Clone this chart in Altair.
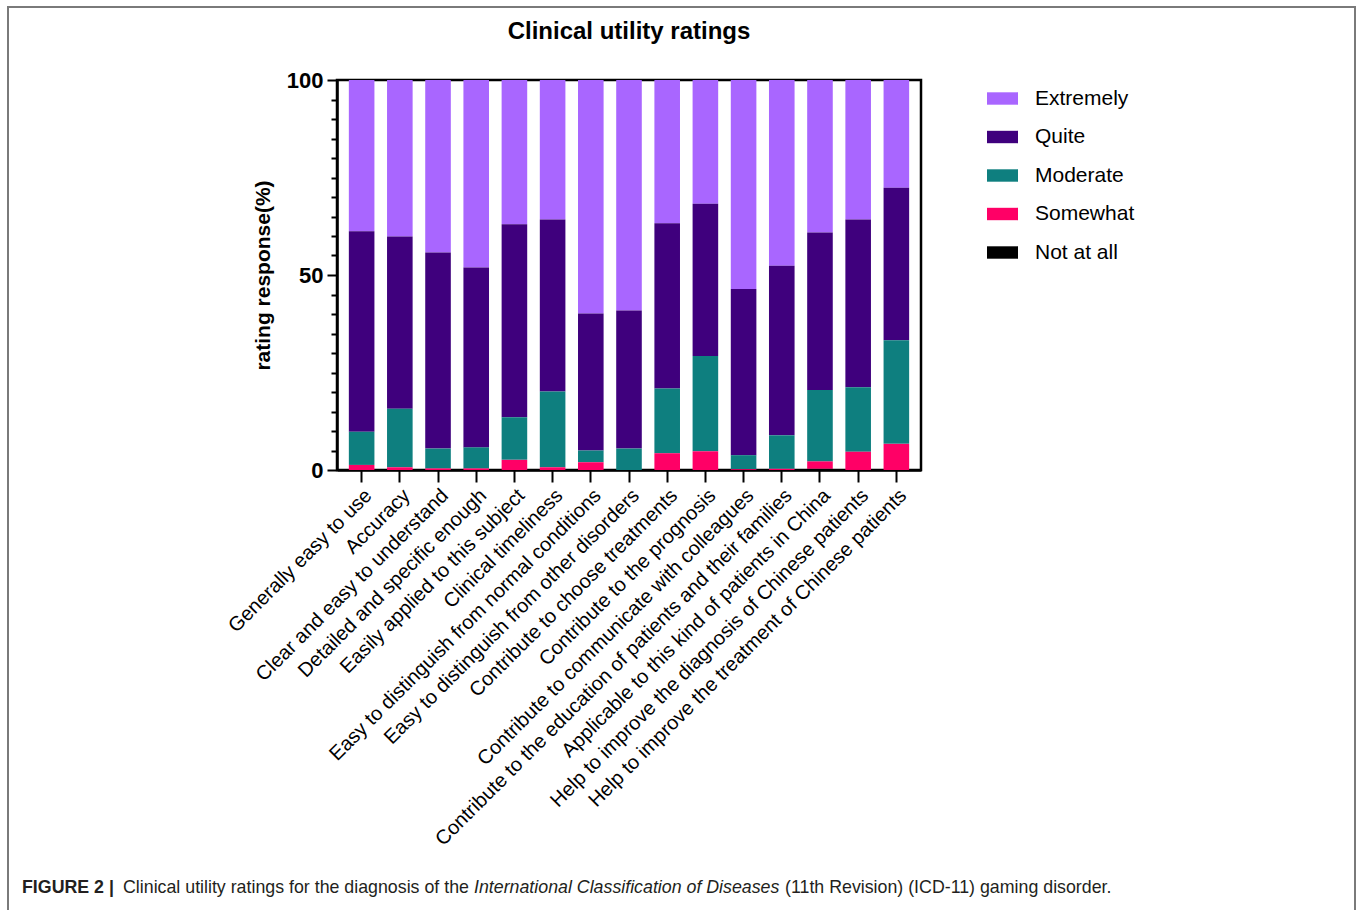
import altair as alt
import pandas as pd

categories = [
    "Generally easy to use",
    "Accuracy",
    "Clear and easy to understand",
    "Detailed and specific enough",
    "Easily applied to this subject",
    "Clinical timeliness",
    "Easy to distinguish from normal conditions",
    "Easy to distinguish from other disorders",
    "Contribute to choose treatments",
    "Contribute to the prognosis",
    "Contribute to communicate with colleagues",
    "Contribute to the education of patients and their families",
    "Applicable to this kind of patients in China",
    "Help to improve the diagnosis of Chinese patients",
    "Help to improve the treatment of Chinese patients",
]

not_at_all = [0, 0, 0, 0, 0, 0, 0, 0, 0, 0, 0, 0, 0.3, 0, 0]
somewhat = [1.3, 0.7, 0.4, 0.4, 2.6, 0.7, 2.0, 0, 4.3, 4.8, 0.2, 0.3, 1.9, 4.7, 6.7]
moderate = [8.5, 15.0, 5.1, 5.4, 10.9, 19.4, 3.0, 5.5, 16.6, 24.4, 3.6, 8.6, 18.3, 16.5, 26.6]
quite = [51.4, 44.2, 50.3, 46.1, 49.5, 44.1, 35.1, 35.4, 42.4, 39.1, 42.6, 43.5, 40.4, 43.0, 39.1]
extremely = [38.8, 40.1, 44.2, 48.1, 37.0, 35.8, 59.9, 59.1, 36.7, 31.7, 53.6, 47.6, 39.1, 35.8, 27.6]

ratings = ["Extremely", "Quite", "Moderate", "Somewhat", "Not at all"]
colors = ["#a966ff", "#3f007d", "#0e7f7f", "#ff0066", "#000000"]
stack_order = {"Not at all": 0, "Somewhat": 1, "Moderate": 2, "Quite": 3, "Extremely": 4}
series = {"Extremely": extremely, "Quite": quite, "Moderate": moderate,
          "Somewhat": somewhat, "Not at all": not_at_all}

rows = []
for r in ratings:
    for c, v in zip(categories, series[r]):
        rows.append({"category": c, "rating": r, "value": v, "ord": stack_order[r]})
df = pd.DataFrame(rows)

FONT = "Liberation Sans"

bars = alt.Chart(df).mark_bar(stroke=None).encode(
    x=alt.X("category:N", sort=categories, title=None,
            scale=alt.Scale(paddingInner=0.33, paddingOuter=0.31),
            axis=alt.Axis(labelAngle=-45, labelAlign="right", labelBaseline="top",
                          labelFontSize=20, labelColor="black", labelPadding=3,
                          tickSize=12, tickWidth=2, tickColor="black",
                          domainColor="black", domainWidth=2.5, labelLimit=0)),
    y=alt.Y("value:Q", stack="zero", title="rating response(%)",
            scale=alt.Scale(domain=[0, 100], nice=False),
            axis=alt.Axis(values=list(range(0, 101, 5)),
                          labelExpr="datum.value % 50 === 0 ? datum.label : ''",
                          tickSize={"condition": {"test": "datum.value % 50 === 0", "value": 10}, "value": 6},
                          tickWidth=2, tickColor="black", domainColor="black", domainWidth=2.5,
                          labelFontSize=22, labelFontWeight="bold", labelColor="black",
                          labelPadding=4, grid=False,
                          titleFontSize=21, titleFontWeight="bold", titleColor="black",
                          titlePadding=13)),
    color=alt.Color("rating:N", scale=alt.Scale(domain=ratings, range=colors),
                    legend=alt.Legend(title=None, orient="none", legendX=650, legendY=3,
                                      symbolType="M-1,-0.4H1V0.4H-1Z", symbolSize=961,
                                      symbolStrokeWidth=0, labelFontSize=21, labelColor="black",
                                      labelOffset=17, rowPadding=12.5)),
    order=alt.Order("ord:Q", sort="ascending"),
)

one = pd.DataFrame({"k": [0]})

title_text = alt.Chart(one).mark_text(align="center", baseline="middle", fontSize=24,
                                      fontWeight="bold", color="black", font=FONT).encode(
    x=alt.value(292), y=alt.value(32 - 80), text=alt.value("Clinical utility ratings"))

cap_y = 813
cap_fs = 17.8
caption_bold = alt.Chart(one).mark_text(align="left", baseline="alphabetic", fontSize=cap_fs,
                                        fontWeight="bold", color="#231f20", font=FONT).encode(
    x=alt.value(22 - 337), y=alt.value(cap_y), text=alt.value("FIGURE 2 |"))
caption_1 = alt.Chart(one).mark_text(align="left", baseline="alphabetic", fontSize=cap_fs,
                                     color="#231f20", font=FONT).encode(
    x=alt.value(123 - 337), y=alt.value(cap_y),
    text=alt.value("Clinical utility ratings for the diagnosis of the"))
caption_2 = alt.Chart(one).mark_text(align="left", baseline="alphabetic", fontSize=cap_fs,
                                     fontStyle="italic", color="#231f20", font=FONT).encode(
    x=alt.value(474 - 337), y=alt.value(cap_y),
    text=alt.value("International Classification of Diseases"))
caption_3 = alt.Chart(one).mark_text(align="left", baseline="alphabetic", fontSize=cap_fs,
                                     color="#231f20", font=FONT).encode(
    x=alt.value(785 - 337), y=alt.value(cap_y),
    text=alt.value("(11th Revision) (ICD-11) gaming disorder."))

border = alt.Chart(one).mark_rect(fillOpacity=0, stroke="#7a7a7a", strokeWidth=2).encode(
    x=alt.value(8 - 337), x2=alt.value(1355 - 337), y=alt.value(7 - 80), y2=alt.value(950 - 80))

chart = alt.layer(border, bars, title_text, caption_bold, caption_1, caption_2, caption_3).properties(
    width=584, height=390,
    autosize=alt.AutoSizeParams(type="none"),
    padding={"left": 337, "top": 80, "right": 436, "bottom": 440},
).configure(font=FONT).configure_view(stroke="black", strokeWidth=2.5)

chart.save("out.html", embed_options={"renderer": "svg", "actions": False})
